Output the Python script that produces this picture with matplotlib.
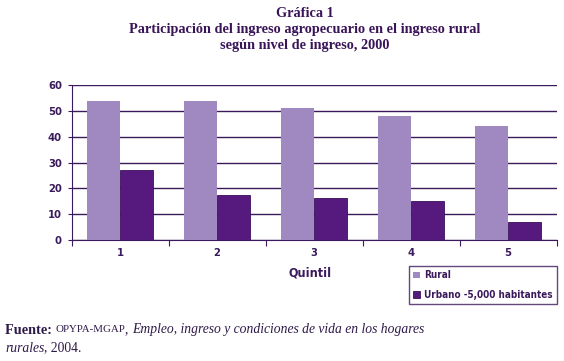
import numpy as np
import matplotlib
matplotlib.use("Agg")
import matplotlib.pyplot as plt

quintiles = ["1", "2", "3", "4", "5"]
rural = [54, 54, 51, 48, 44]
urbano = [27.2, 17.4, 16.1, 15.2, 7.1]
series_names = ["Rural", "Urbano -5,000 habitantes"]

dark = "#3b1a5c"
c_rural = "#a088c0"
c_urb = "#561a7e"
sans = ["DejaVu Sans"]
serif = ["Liberation Serif", "DejaVu Serif"]

fig = plt.figure(figsize=(5.64, 3.61), dpi=100)
ax = fig.add_axes([0.127, 0.335, 0.86, 0.4294])

x = np.arange(len(quintiles))
w = 0.34
ax.bar(x - w / 2, rural, w, color=c_rural, label=series_names[0], zorder=3)
ax.bar(x + w / 2, urbano, w, color=c_urb, edgecolor="#3a0f58", linewidth=0.6,
       label=series_names[1], zorder=3)

ax.set_xlim(-0.5, len(quintiles) - 0.5)
ax.set_ylim(0, 60)
ax.set_yticks(range(0, 61, 10))
ax.yaxis.grid(True, color=dark, linewidth=1.0, zorder=0)
ax.set_axisbelow(True)
for s in ["top", "right"]:
    ax.spines[s].set_visible(False)
ax.spines["left"].set_color(dark)
ax.spines["bottom"].set_color(dark)

# ticks between the categories, labels at the centres
ax.set_xticks(np.arange(-0.5, len(quintiles), 1.0))
ax.set_xticklabels([])
ax.set_xticks(x, minor=True)
ax.set_xticklabels(quintiles, minor=True)
ax.tick_params(axis="x", which="major", direction="out", length=4, color=dark)
ax.tick_params(axis="x", which="minor", length=0, pad=6)
ax.tick_params(axis="y", direction="out", length=3, color=dark, pad=4)
for lab in ax.get_xticklabels(minor=True) + ax.get_yticklabels():
    lab.set_family(sans)
    lab.set_stretch("condensed")
    lab.set_fontweight("bold")
    lab.set_fontsize(8)
    lab.set_color(dark)

fig.text(0.55, 0.245, "Quintil", family=sans, stretch="condensed",
         fontweight="bold", fontsize=9, color=dark, ha="center", va="center")

leg = fig.legend(loc="upper right", bbox_to_anchor=(557 / 564, 1 - 266 / 361),
                 frameon=True, fancybox=False, edgecolor=dark, handlelength=0.7,
                 handleheight=0.7, handletextpad=0.4, borderpad=0.45,
                 labelspacing=0.95, borderaxespad=0.0,
                 prop={"family": sans, "stretch": "condensed", "weight": "bold",
                       "size": 7.1})
leg.get_frame().set_linewidth(1.0)
for t in leg.get_texts():
    t.set_color(dark)

title_col = "#3a1458"
fig.text(0.541, 0.963, "Gráfica 1", family=serif, fontweight="bold", fontsize=10.3,
         color=title_col, ha="center", va="center")
fig.text(0.541, 0.918, "Participación del ingreso agropecuario en el ingreso rural",
         family=serif, fontweight="bold", fontsize=10.3, color=title_col,
         ha="center", va="center")
fig.text(0.541, 0.873, "según nivel de ingreso, 2000", family=serif,
         fontweight="bold", fontsize=10.3, color=title_col, ha="center", va="center")

# footer built from pieces
foot_col = "#2e1a48"
fig.canvas.draw()
r = fig.canvas.get_renderer()
y1 = 1 - 330 / 361
pieces = [("Fuente: ", "bold", "normal", 10.3),
          ("OPYPA-MGAP", "normal", "normal", 7.8),
          (", ", "normal", "normal", 9.8),
          ("Empleo, ingreso y condiciones de vida en los hogares", "normal", "italic", 9.8)]
xp = 5
for txt, wt, st, sz in pieces:
    t = fig.text(xp / 564, y1, txt, family=serif, fontweight=wt, style=st,
                 fontsize=sz, color=foot_col, ha="left", va="center")
    xp = t.get_window_extent(r).x1
y2 = 1 - 348 / 361
t = fig.text(5 / 564, y2, "rurales", family=serif, style="italic", fontsize=9.8,
             color=foot_col, ha="left", va="center")
xp = t.get_window_extent(r).x1
fig.text(xp / 564, y2, ", 2004.", family=serif, fontsize=9.8, color=foot_col,
         ha="left", va="center")

fig.savefig("out.png", dpi=100)
